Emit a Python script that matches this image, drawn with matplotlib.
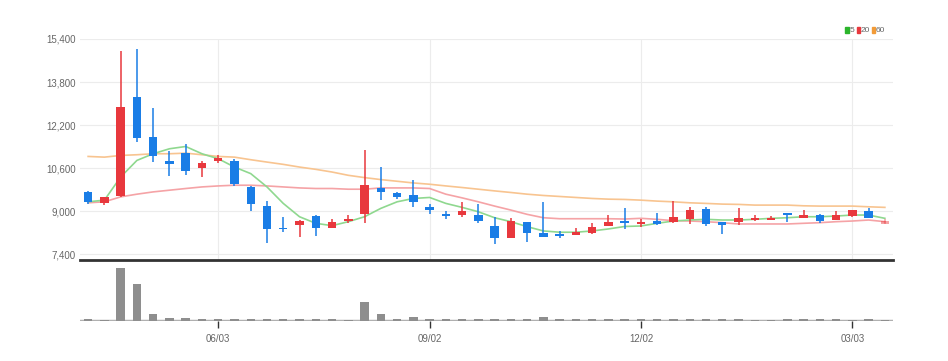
import numpy as np
import pandas as pd
import matplotlib
matplotlib.use("Agg")
import matplotlib.pyplot as plt
from matplotlib.patches import Rectangle
from matplotlib.ticker import FuncFormatter

plt.rcParams['font.family'] = ['Liberation Sans Narrow', 'Liberation Sans', 'DejaVu Sans']

# weekly candles, first week starts 2024-04-08
dates = pd.date_range("2024-04-08", periods=50, freq="W-MON")

opens = [9700, 9310, 9570, 13250, 11740, 10880, 11170, 10590, 10880, 10850,
         9880, 9200, 8370, 8480, 8820, 8380, 8620, 8880, 9860, 9690,
         9590, 9140, 8880, 8840, 8850, 8460, 7990, 8600, 8180, 8140,
         8100, 8180, 8450, 8630, 8520, 8630, 8600, 8700, 9070, 8580,
         8580, 8670, 8670, 8920, 8740, 8850, 8680, 8820, 9000, 8520]
highs = [9750, 9540, 14950, 15010, 12850, 11250, 11500, 10880, 11070, 10950,
         9940, 9370, 8770, 8670, 8850, 8720, 8850, 11280, 10640, 9700,
         10150, 9280, 9010, 9340, 9250, 8790, 8730, 8600, 9340, 8260,
         8360, 8550, 8850, 9100, 8690, 8920, 9380, 9140, 9140, 8600,
         9100, 8850, 8830, 8920, 9040, 8880, 9000, 9040, 9100, 8690]
lows = [9260, 9220, 9530, 11560, 10820, 10300, 10330, 10250, 10790, 9940,
        9010, 7810, 8210, 8050, 8090, 8380, 8550, 8550, 9410, 9450,
        9140, 8890, 8700, 8790, 8570, 7780, 7990, 7840, 8030, 7990,
        8100, 8150, 8450, 8350, 8420, 8480, 8570, 8520, 8450, 8150,
        8480, 8640, 8670, 8600, 8740, 8570, 8680, 8790, 8730, 8520]
closes = [9340, 9530, 12880, 11720, 11040, 10740, 10500, 10800, 10980, 10020,
          9280, 8340, 8320, 8620, 8370, 8600, 8720, 9960, 9700, 9510,
          9340, 9040, 8800, 9010, 8630, 8010, 8640, 8200, 8030, 8090,
          8210, 8400, 8600, 8570, 8600, 8520, 8790, 9040, 8520, 8480,
          8730, 8750, 8750, 8840, 8850, 8640, 8840, 9040, 8730, 8630]
volumes = [3, 2, 100, 69, 12.6, 5, 5, 4, 3, 3,
           4, 4, 3, 3, 3, 3, 2, 35, 13.7, 3,
           7, 3, 3, 3, 3, 4, 3, 3, 7.5, 3,
           3, 3, 3, 4.5, 3, 3, 4.5, 3, 3, 3,
           3, 1, 1, 3, 3, 3, 3, 1, 3, 1]

ma5 = [9344, 9406, 10267, 10884, 11132, 11317, 11402, 11132, 10947, 10637,
       10393, 9898, 9285, 8789, 8545, 8457, 8605, 8789, 9100, 9344,
       9469, 9506, 9285, 9137, 8974, 8752, 8605, 8420, 8261, 8213,
       8213, 8261, 8335, 8427, 8446, 8545, 8630, 8667, 8693, 8667,
       8667, 8693, 8730, 8752, 8789, 8789, 8815, 8852, 8852, 8730]
ma20 = [9307, 9344, 9528, 9628, 9713, 9776, 9839, 9898, 9935, 9961,
        9961, 9935, 9898, 9861, 9839, 9839, 9813, 9813, 9861, 9861,
        9861, 9839, 9628, 9491, 9344, 9185, 9037, 8878, 8752, 8715,
        8715, 8715, 8715, 8704, 8730, 8693, 8642, 8630, 8605, 8568,
        8520, 8520, 8520, 8520, 8545, 8568, 8605, 8630, 8667, 8605]
ma60 = [11032, 11006, 11069, 11095, 11132, 11132, 11154, 11095, 11032, 11006,
        10910, 10822, 10737, 10637, 10552, 10452, 10330, 10245, 10171, 10109,
        10046, 9998, 9935, 9876, 9813, 9750, 9691, 9628, 9580, 9543,
        9506, 9469, 9443, 9432, 9406, 9370, 9344, 9307, 9285, 9259,
        9248, 9222, 9222, 9222, 9196, 9185, 9185, 9185, 9159, 9137]

tick_dates = ["2024-06-03", "2024-09-02", "2024-12-02", "2025-03-03"]
yticks = [7400, 9000, 10600, 12200, 13800, 15400]
legend_labels = ["5", "20", "60"]
legend_colors = ["#2bb52b", "#e8383d", "#f29b38"]

UP = "#e8383d"
DOWN = "#1a7de6"

W, H = 948, 361
fig = plt.figure(figsize=(W / 100, H / 100), dpi=100)
ax = fig.add_axes([80 / W, 1 - 260 / H, 813 / W, 221 / H])
axv = fig.add_axes([80 / W, 1 - 321 / H, 813 / W, 58 / H])

x = np.arange(len(dates))
o, h, l, c = map(np.array, (opens, highs, lows, closes))
colors = [UP if cc >= oo else DOWN for oo, cc in zip(o, c)]
alphas = [1.0] * (len(x) - 1) + [0.45]  # current week is drawn faded

# moving averages
ax.plot(x, ma60, color="#f8c490", lw=1.2, zorder=2, clip_on=False)
ax.plot(x, ma20, color="#f5a3a6", lw=1.2, zorder=2)
ax.plot(x, ma5, color="#8fd88f", lw=1.2, zorder=2)

for xi, oo, hh, ll, cc, col, a in zip(x, o, h, l, c, colors, alphas):
    ax.vlines(xi, ll, hh, color=col, lw=1.1, alpha=a, zorder=3)
    body = max(abs(cc - oo), 25)
    ax.bar(xi, body, bottom=min(oo, cc), width=0.52, color=col, alpha=a,
           linewidth=0, zorder=4)

ax.set_xlim(-0.5, len(x) - 0.5)
ax.set_ylim(7180, 15400)
ax.set_yticks(yticks)
ax.yaxis.set_major_formatter(FuncFormatter(lambda v, _: f"{int(v):,}"))
tick_idx = [list(dates.strftime("%Y-%m-%d")).index(d) for d in tick_dates]
ax.set_xticks(tick_idx)
ax.set_xticklabels([])
ax.tick_params(axis="x", length=0)
ax.tick_params(axis="y", length=0, pad=3, labelsize=7, labelcolor="#666666")
ax.grid(True, color="#ececec", lw=0.8, zorder=0)
for s in ["top", "right", "left"]:
    ax.spines[s].set_visible(False)
ax.spines["bottom"].set_color("#333333")
ax.spines["bottom"].set_linewidth(2)

# volume
axv.bar(x, volumes, width=0.52, color="#8e8e8e", linewidth=0, zorder=3)
axv.axhline(0, color="#b0b0b0", lw=2.5, zorder=2)
axv.set_xlim(-0.5, len(x) - 0.5)
axv.set_ylim(0, 109)
axv.set_yticks([])
axv.set_xticks(tick_idx)
axv.set_xticklabels([dates[i].strftime("%m/%d") for i in tick_idx])
axv.tick_params(axis="x", length=5, width=1, color="#333333", pad=4,
                labelsize=7, labelcolor="#666666")
for s in ["top", "right", "left", "bottom"]:
    axv.spines[s].set_visible(False)

# legend (top right): small colour bars followed by the MA period
lx = 845
for label, col in zip(legend_labels, legend_colors):
    fig.patches.append(Rectangle((lx / W, 1 - 33 / H), 3.5 / W, 6 / H,
                                 transform=fig.transFigure, color=col))
    fig.text((lx + 4.5) / W, 1 - 30 / H, label, color="#666666", fontsize=6,
             va="center", ha="left")
    lx += 4.5 + 3.5 * len(label) + 3.5

fig.savefig("out.png", dpi=100)
